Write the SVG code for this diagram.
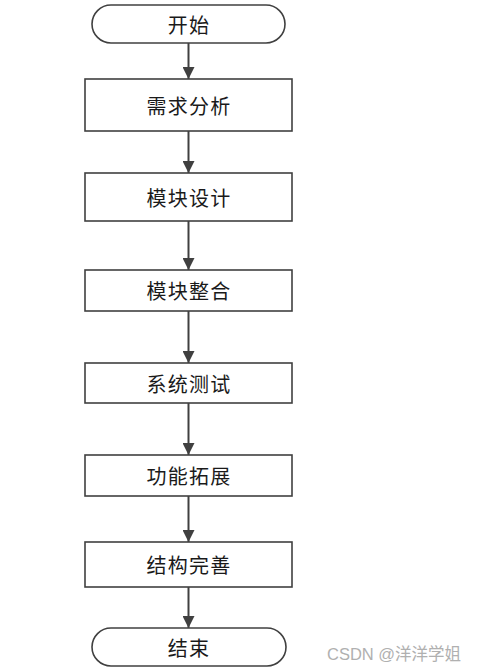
<svg xmlns="http://www.w3.org/2000/svg" width="478" height="672" viewBox="0 0 478 672">
<defs>
<marker id="arr" markerWidth="12" markerHeight="12" refX="12" refY="6" orient="auto" markerUnits="userSpaceOnUse">
<path d="M0,0 L12,6 L0,12 Z" fill="#404040"/>
</marker>
<style>
.box{fill:#fff;stroke:#404040;stroke-width:1.6}
.t{font-family:"Noto Sans CJK SC","Liberation Sans",sans-serif;font-size:20px;letter-spacing:1.3px;fill:#1a1a1a;text-anchor:middle;dominant-baseline:central}
.c{stroke:#404040;stroke-width:2;fill:none;marker-end:url(#arr)}
.wm{font-family:"Liberation Sans","Noto Sans CJK SC",sans-serif;font-size:16.5px;fill:#b0b0b0}
</style>
</defs>
<rect width="478" height="672" fill="#fff"/>
<g id="connectors">
<line class="c" x1="188.5" y1="43" x2="188.5" y2="79"/>
<line class="c" x1="188.5" y1="131" x2="188.5" y2="173"/>
<line class="c" x1="188.5" y1="221" x2="188.5" y2="270"/>
<line class="c" x1="188.5" y1="311" x2="188.5" y2="363"/>
<line class="c" x1="188.5" y1="403" x2="188.5" y2="455"/>
<line class="c" x1="188.5" y1="496" x2="188.5" y2="542"/>
<line class="c" x1="188.5" y1="587" x2="188.5" y2="628"/>
</g>
<g id="start">
<rect class="box" x="92" y="5" width="193" height="38" rx="19"/>
<text class="t" x="189" y="24">开始</text>
</g>
<g id="n1">
<rect class="box" x="85" y="79" width="207" height="52"/>
<text class="t" x="189" y="105">需求分析</text>
</g>
<g id="n2">
<rect class="box" x="85" y="173" width="207" height="48"/>
<text class="t" x="189" y="197">模块设计</text>
</g>
<g id="n3">
<rect class="box" x="85" y="270" width="207" height="41"/>
<text class="t" x="189" y="290.5">模块整合</text>
</g>
<g id="n4">
<rect class="box" x="85" y="363" width="207" height="40"/>
<text class="t" x="189" y="383">系统测试</text>
</g>
<g id="n5">
<rect class="box" x="85" y="455" width="207" height="41"/>
<text class="t" x="189" y="475.5">功能拓展</text>
</g>
<g id="n6">
<rect class="box" x="85" y="542" width="207" height="45"/>
<text class="t" x="189" y="564.5">结构完善</text>
</g>
<g id="end">
<rect class="box" x="92" y="628" width="194" height="38" rx="19"/>
<text class="t" x="189" y="647">结束</text>
</g>
<text class="wm" x="327" y="660">CSDN @洋洋学姐</text>
</svg>
